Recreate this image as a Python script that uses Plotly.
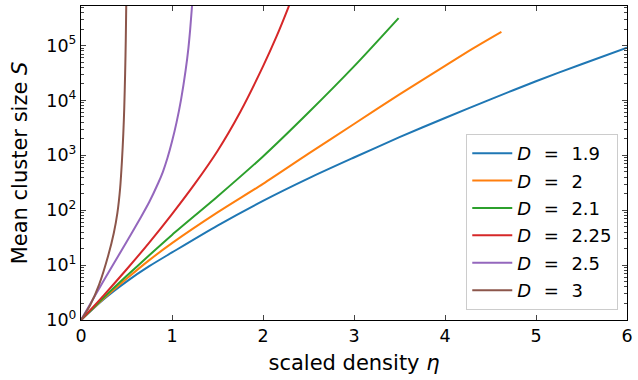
import plotly.graph_objects as go

colors = ["#1f77b4", "#ff7f0e", "#2ca02c", "#d62728", "#9467bd", "#8c564b"]
labels = ["1.9", "2", "2.1", "2.25", "2.5", "3"]

# eta values and log10(S) values
eta_19 = [0, 0.25, 0.5, 0.75, 1.0, 1.5, 2.0, 2.5, 3.0, 3.5, 4.0, 4.5, 5.0, 5.5, 6.0]
logS_19 = [0, 0.38, 0.70, 0.98, 1.23, 1.72, 2.17, 2.58, 2.96, 3.33, 3.68, 4.02, 4.35, 4.66, 4.96]

eta_20 = [0, 0.25, 0.5, 0.75, 1.0, 1.5, 2.0, 2.5, 3.0, 3.5, 4.0, 4.3, 4.62]
logS_20 = [0, 0.39, 0.75, 1.09, 1.40, 1.96, 2.48, 3.03, 3.57, 4.11, 4.63, 4.94, 5.25]

eta_21 = [0, 0.25, 0.5, 0.75, 1.0, 1.5, 2.0, 2.5, 3.0, 3.49]
logS_21 = [0, 0.41, 0.80, 1.18, 1.55, 2.25, 2.98, 3.78, 4.62, 5.5]

eta_225 = [0, 0.25, 0.5, 0.75, 1.0, 1.25, 1.5, 1.75, 2.0, 2.15, 2.28, 2.33]
logS_225 = [0, 0.45, 0.92, 1.41, 1.93, 2.48, 3.08, 3.79, 4.62, 5.17, 5.70, 5.92]

eta_25 = [0, 0.25, 0.5, 0.65, 0.75, 0.85, 0.9, 0.95, 1.0, 1.05, 1.1, 1.15, 1.18, 1.2, 1.22, 1.235]
logS_25 = [0, 0.72, 1.42, 1.85, 2.15, 2.5, 2.7, 2.95, 3.25, 3.6, 4.02, 4.55, 4.95, 5.3, 5.72, 6.0]

eta_3 = [0, 0.1, 0.2, 0.3, 0.36, 0.4, 0.43, 0.45, 0.465, 0.475, 0.485, 0.492, 0.497, 0.5]
logS_3 = [0, 0.27, 0.65, 1.18, 1.58, 1.95, 2.4, 2.9, 3.4, 3.85, 4.5, 5.1, 5.72, 6.1]

series = [(eta_19, logS_19), (eta_20, logS_20), (eta_21, logS_21),
          (eta_225, logS_225), (eta_25, logS_25), (eta_3, logS_3)]

fig = go.Figure()
for i, ((xs, ls), c, lab) in enumerate(zip(series, colors, labels)):
    fig.add_trace(go.Scatter(
        x=xs, y=[10 ** v for v in ls], mode="lines",
        line=dict(color=c, width=2, shape="spline", smoothing=0.8),
        name=f"<i>D</i>\u2002\u2009=\u2002\u2009{lab}", legendgroup=f"g{i}",
    ))

font = "DejaVu Sans"
minor_vals = [k * 10 ** n for n in range(0, 6) for k in range(2, 10)]

fig.update_layout(
    width=638, height=380,
    margin=dict(l=81, r=6, t=5, b=60),
    paper_bgcolor="white", plot_bgcolor="white",
    font=dict(family=font, size=17.5, color="black"),
    showlegend=True,
    legend=dict(x=0.984, y=0.032, xanchor="right", yanchor="bottom",
                bordercolor="#cccccc", borderwidth=1, bgcolor="white",
                font=dict(size=18), tracegroupgap=1, itemwidth=40),
    xaxis=dict(range=[0, 6], dtick=1, ticks="inside", ticklen=5, tickwidth=1,
               showline=True, linecolor="black", linewidth=1.3, mirror="ticks",
               showgrid=False, zeroline=False,
               title=dict(text="scaled density <i>η</i>", standoff=10)),
    yaxis=dict(type="log", range=[0, 5.72],
               tickvals=[1, 10, 100, 1000, 10000, 100000],
               ticktext=["10<sup>0</sup>", "10<sup>1</sup>", "10<sup>2</sup>",
                         "10<sup>3</sup>", "10<sup>4</sup>", "10<sup>5</sup>"],
               ticks="inside", ticklen=5, tickwidth=1,
               minor=dict(tickvals=minor_vals, ticks="inside", ticklen=3, showgrid=False),
               showline=True, linecolor="black", linewidth=1.3, mirror="ticks",
               showgrid=False, zeroline=False,
               title=dict(text="Mean cluster size <i>S</i>", standoff=12)),
)

fig.write_html("out.html")
